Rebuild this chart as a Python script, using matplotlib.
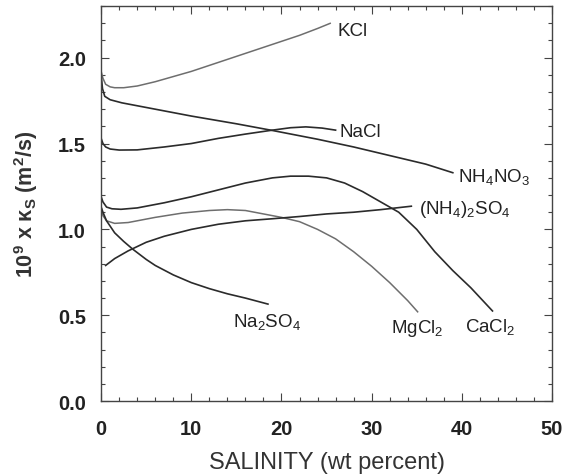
import matplotlib
matplotlib.use('Agg')
import matplotlib.pyplot as plt
from matplotlib.ticker import MultipleLocator

plt.rcParams['font.family'] = ['Liberation Sans', 'DejaVu Sans']
plt.rcParams['mathtext.default'] = 'regular'

# curves: salinity (wt %) vs 1e9 * kappa_s (m^2/s)
kcl_x = [0, 0.2, 0.5, 1, 1.5, 2.5, 4, 6, 8, 10, 12, 14, 16, 18, 20, 22, 24, 25.4]
kcl_y = [1.92, 1.88, 1.845, 1.83, 1.825, 1.825, 1.835, 1.86, 1.89, 1.92, 1.955,
         1.99, 2.025, 2.06, 2.095, 2.13, 2.17, 2.20]

nh4no3_x = [0, 0.15, 0.4, 1, 2.3, 5, 10, 15, 19, 24, 28, 32, 36, 39]
nh4no3_y = [1.90, 1.82, 1.775, 1.755, 1.737, 1.71, 1.66, 1.615, 1.576, 1.525,
            1.48, 1.43, 1.38, 1.33]

nacl_x = [0, 0.2, 0.5, 1, 2, 4, 7, 10, 13, 16, 19, 21, 22.7, 24.5, 26]
nacl_y = [1.53, 1.50, 1.48, 1.468, 1.462, 1.463, 1.48, 1.50, 1.53, 1.555, 1.578,
          1.592, 1.597, 1.59, 1.578]

cacl2_x = [0, 0.2, 0.6, 1.2, 2.2, 4, 7, 10, 13, 16, 19, 21, 23, 25, 27, 29, 31,
           33, 35, 37, 39, 41, 43.4]
cacl2_y = [1.19, 1.16, 1.13, 1.12, 1.117, 1.125, 1.155, 1.19, 1.23, 1.27, 1.30,
           1.31, 1.31, 1.30, 1.27, 1.22, 1.16, 1.10, 1.00, 0.87, 0.76, 0.66, 0.525]

mgcl2_x = [0, 0.2, 0.6, 1.5, 3, 6, 9, 12, 14, 16, 18, 20, 22, 24, 26, 28, 30,
           32, 34, 35.1]
mgcl2_y = [1.13, 1.08, 1.05, 1.035, 1.04, 1.07, 1.095, 1.11, 1.115, 1.11, 1.09,
           1.07, 1.045, 1.00, 0.945, 0.87, 0.785, 0.69, 0.585, 0.52]

nh42so4_x = [0.5, 1.5, 3, 5, 7, 10, 13, 16, 19, 22, 25, 28, 31, 34.4]
nh42so4_y = [0.79, 0.83, 0.875, 0.925, 0.96, 1.00, 1.03, 1.05, 1.062, 1.075,
             1.09, 1.10, 1.115, 1.135]

na2so4_x = [0, 0.2, 0.6, 1.5, 2.5, 3.5, 5, 6, 8, 10, 12, 14, 16, 18.5]
na2so4_y = [1.13, 1.10, 1.05, 0.98, 0.93, 0.885, 0.825, 0.79, 0.735, 0.69,
            0.655, 0.625, 0.60, 0.565]

fig = plt.figure(figsize=(5.65, 4.77), dpi=100)
ax = fig.add_axes([0.179, 0.157, 0.798, 0.828])

dark = '#2b2b2b'
light = '#6e6e6e'
ax.plot(kcl_x, kcl_y, color=light, lw=1.1)
ax.plot(nh4no3_x, nh4no3_y, color=dark, lw=1.2)
ax.plot(nacl_x, nacl_y, color=dark, lw=1.2)
ax.plot(cacl2_x, cacl2_y, color=dark, lw=1.2)
ax.plot(mgcl2_x, mgcl2_y, color=light, lw=1.1)
ax.plot(nh42so4_x, nh42so4_y, color=dark, lw=1.2)
ax.plot(na2so4_x, na2so4_y, color=dark, lw=1.2)

# curve labels
lab = dict(fontsize=13.5, color='#222222', va='center', ha='left')
ax.text(26.2, 2.16, 'KCl', **lab)
ax.text(26.4, 1.57, 'NaCl', **lab)
ax.text(39.6, 1.31, 'NH$_4$NO$_3$', **lab)
ax.text(35.3, 1.12, '(NH$_4$)$_2$SO$_4$', **lab)
ax.text(14.6, 0.465, 'Na$_2$SO$_4$', **lab)
ax.text(32.2, 0.43, 'MgCl$_2$', **lab)
ax.text(40.4, 0.435, 'CaCl$_2$', **lab)

ax.set_xlim(0, 50)
ax.set_ylim(0, 2.3)
ax.set_xticks([0, 10, 20, 30, 40, 50])
ax.set_yticks([0.0, 0.5, 1.0, 1.5, 2.0])
ax.set_yticklabels(['0.0', '0.5', '1.0', '1.5', '2.0'])
ax.xaxis.set_minor_locator(MultipleLocator(2))
ax.yaxis.set_minor_locator(MultipleLocator(0.1))
ax.tick_params(which='both', direction='in', top=True, right=True,
               color='#444444', width=0.8)
ax.tick_params(which='major', length=6, labelsize=14.5)
ax.tick_params(axis='x', which='major', pad=13)
ax.tick_params(axis='y', which='major', pad=11)
ax.tick_params(which='minor', length=3)
for t in ax.get_xticklabels() + ax.get_yticklabels():
    t.set_fontweight('bold')
    t.set_color('#222222')
for s in ax.spines.values():
    s.set_color('#444444')
    s.set_linewidth(1.0)

ax.set_xlabel('SALINITY (wt percent)', fontsize=17, color='#333333', labelpad=9)
ax.set_ylabel('10$^9$ x κ$_S$ (m$^2$/s)', fontsize=15.5, fontweight='bold',
              color='#333333', labelpad=13)

fig.savefig('out.png', dpi=100)
